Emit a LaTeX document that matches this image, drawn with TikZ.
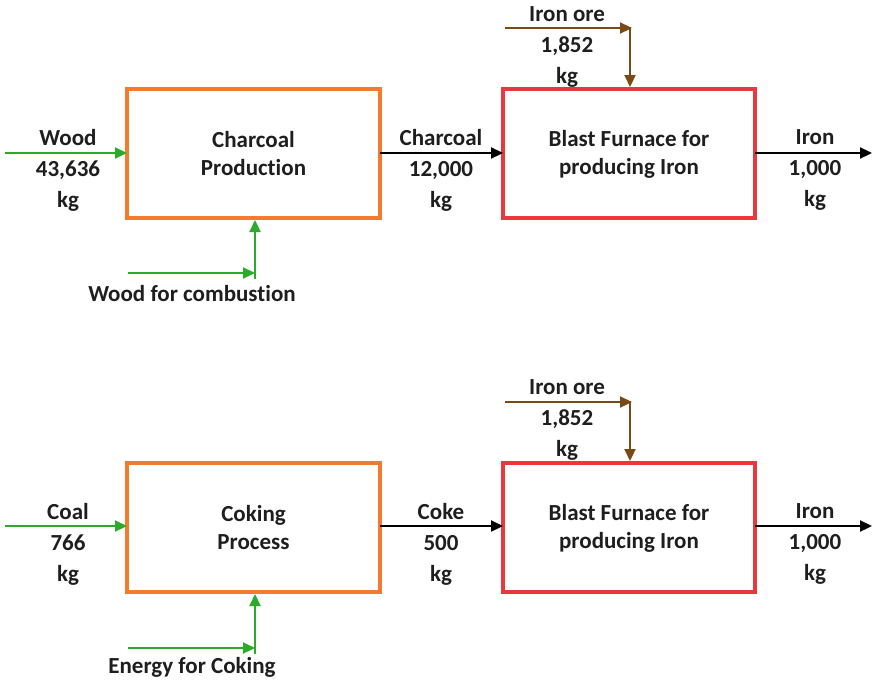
\documentclass[tikz,border=0pt]{standalone}
\usepackage{fontspec}
\setmainfont[Ligatures=NoCommon]{Carlito}
\usetikzlibrary{arrows.meta}
\definecolor{boxorange}{HTML}{F47A2E}
\definecolor{boxred}{HTML}{E8383D}
\definecolor{flowgreen}{HTML}{2BAA2B}
\definecolor{flowbrown}{HTML}{7A4A14}
\definecolor{txt}{HTML}{1E1E1E}
\tikzset{
  procbox/.style={draw, line width=4.5pt, inner sep=0pt},
  boxtext/.style={align=center, text=txt, font=\fontsize{23}{28}\selectfont\bfseries},
  flowlabel/.style={align=center, text=txt, font=\fontsize{23}{31}\selectfont\bfseries, inner sep=0pt},
  flow/.style={line width=2.2pt, -{Triangle[length=12pt,width=11pt]}},
}
\begin{document}
\begin{tikzpicture}[x=1pt,y=-1pt]
\useasboundingbox (0,0) rectangle (882,685);
% ---------- top row ----------
\draw[procbox, boxorange] (127,89) rectangle (380,218);
\coordinate (cp1w) at (127,153); \coordinate (cp1e) at (380,153); \coordinate (cp1s) at (255,220);
\node[boxtext] (cp1t) at (253.5,154) {Charcoal\\Production};
\draw[procbox, boxred] (503,89) rectangle (755,218);
\coordinate (bf1w) at (503,153); \coordinate (bf1e) at (755,153); \coordinate (bf1n) at (630,87);
\node[boxtext] (bf1t) at (629,154) {Blast Furnace for\\producing Iron};

\coordinate (wood1s) at (5,153);
\draw[flow, flowgreen] (wood1s) -- (cp1w);
\node[flowlabel] (wood1l) at (68,170) {Wood\\43,636\\kg};

\coordinate (wc1s) at (128,273); \coordinate (wc1e) at (255,273); \coordinate (wc1v) at (255,279);
\draw[flow, flowgreen] (wc1s) -- (wc1e);
\draw[flow, flowgreen] (wc1v) -- (cp1s);
\node[flowlabel] (wc1l) at (192,294) {Wood for combustion};

\draw[flow, black] (cp1e) -- (bf1w);
\node[flowlabel] (ch1l) at (441,170) {Charcoal\\12,000\\kg};

\coordinate (ore1s) at (505,28); \coordinate (ore1c) at (632,28); \coordinate (ore1v) at (630,27);
\draw[flow, flowbrown] (ore1s) -- (ore1c);
\draw[flow, flowbrown] (ore1v) -- (bf1n);
\node[flowlabel] (ore1l) at (567,47) {Iron ore\\1,852\\kg};

\coordinate (iron1e) at (872,153);
\draw[flow, black] (bf1e) -- (iron1e);
\node[flowlabel] (iron1l) at (815,170) {Iron\\1,000\\kg};

% ---------- bottom row ----------
\draw[procbox, boxorange] (127,463) rectangle (380,592);
\coordinate (cp2w) at (127,526); \coordinate (cp2e) at (380,526); \coordinate (cp2s) at (255,594);
\node[boxtext] (cp2t) at (253.5,528) {Coking\\Process};
\draw[procbox, boxred] (503,463) rectangle (755,592);
\coordinate (bf2w) at (503,526); \coordinate (bf2e) at (755,526); \coordinate (bf2n) at (630,461);
\node[boxtext] (bf2t) at (629,528) {Blast Furnace for\\producing Iron};

\coordinate (coal2s) at (5,526);
\draw[flow, flowgreen] (coal2s) -- (cp2w);
\node[flowlabel] (coal2l) at (68,544) {Coal\\766\\kg};

\coordinate (ec2s) at (128,648); \coordinate (ec2e) at (255,648); \coordinate (ec2v) at (255,654);
\draw[flow, flowgreen] (ec2s) -- (ec2e);
\draw[flow, flowgreen] (ec2v) -- (cp2s);
\node[flowlabel] (ec2l) at (192,667) {Energy for Coking};

\draw[flow, black] (cp2e) -- (bf2w);
\node[flowlabel] (coke2l) at (441,544) {Coke\\500\\kg};

\coordinate (ore2s) at (505,402); \coordinate (ore2c) at (632,402); \coordinate (ore2v) at (630,401);
\draw[flow, flowbrown] (ore2s) -- (ore2c);
\draw[flow, flowbrown] (ore2v) -- (bf2n);
\node[flowlabel] (ore2l) at (567,420) {Iron ore\\1,852\\kg};

\coordinate (iron2e) at (872,526);
\draw[flow, black] (bf2e) -- (iron2e);
\node[flowlabel] (iron2l) at (815,544) {Iron\\1,000\\kg};
\end{tikzpicture}
\end{document}
